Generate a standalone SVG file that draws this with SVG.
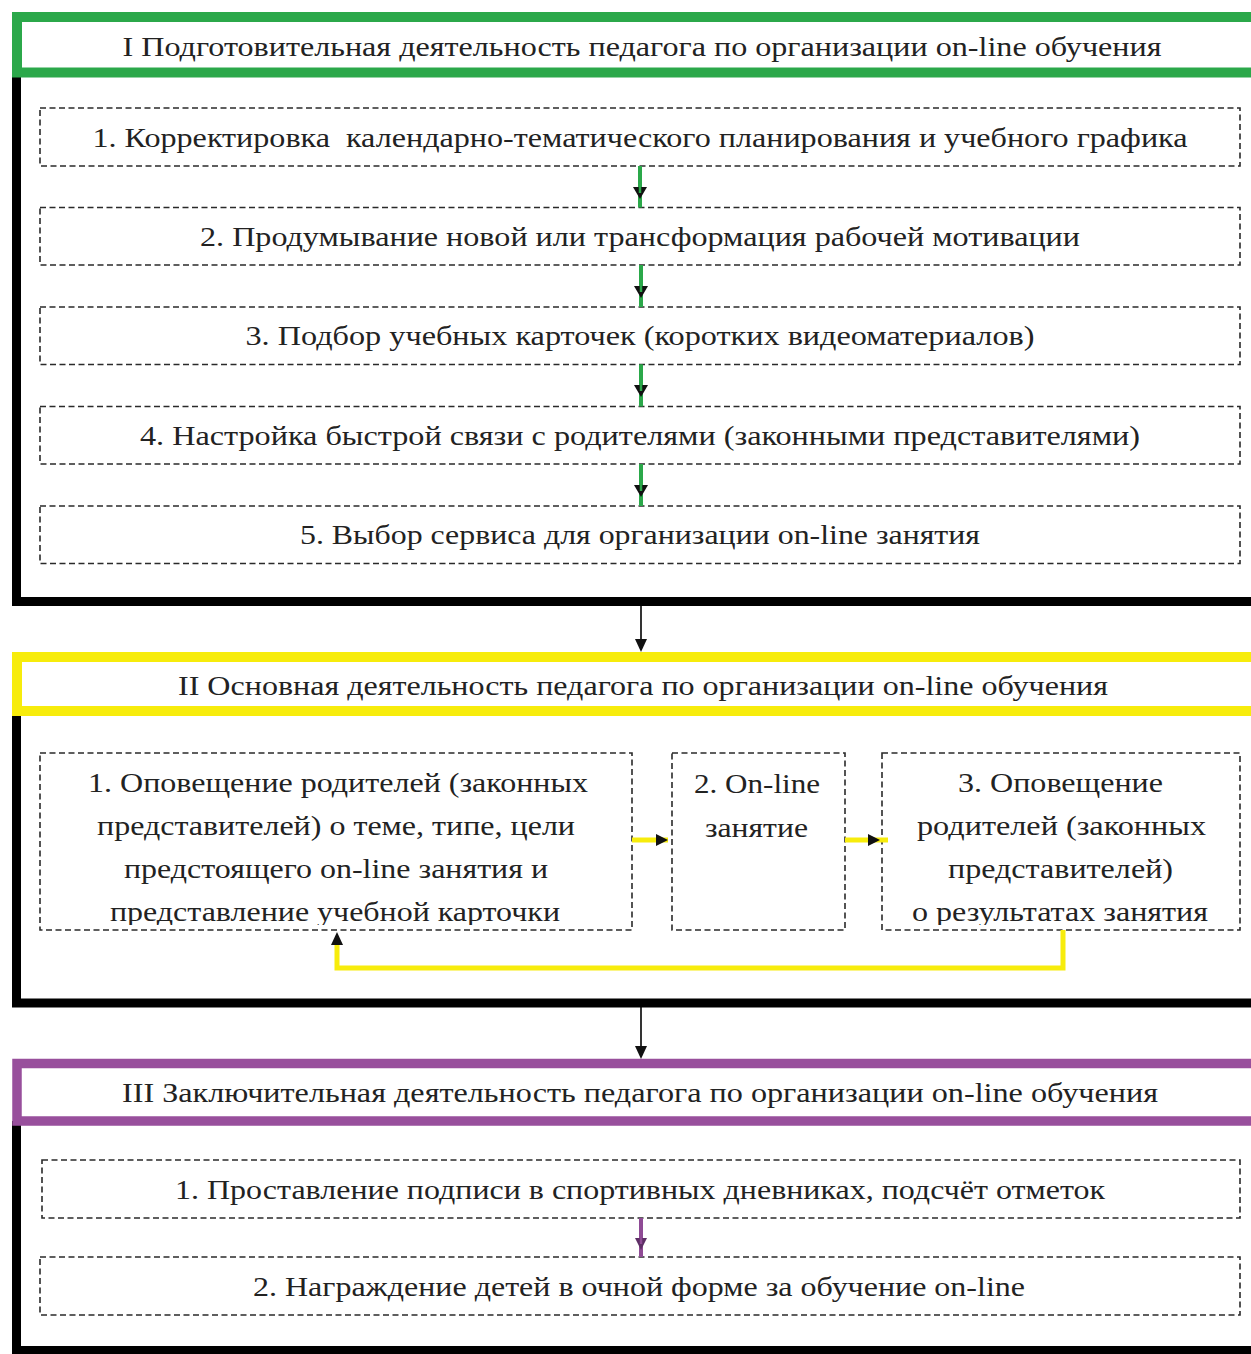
<svg xmlns="http://www.w3.org/2000/svg" width="1251" height="1354" viewBox="0 0 1251 1354">
<style>
  text { font-family: "Liberation Serif", "Times New Roman", serif; font-size: 28px; fill: #222222; text-anchor: middle; }
  .box { fill: #ffffff; stroke: #2a2a2a; stroke-width: 1.6; stroke-dasharray: 6 3.5; }
  .frame { fill: none; stroke: #000000; stroke-width: 9; }
  .hdr { fill: #ffffff; }
  .green { stroke: #2ba84a; }
  .yellow { stroke: #f7ec0c; }
  .purple { stroke: #984f9c; }
  .gline { stroke: #2ba84a; stroke-width: 4; fill: none; }
  .yline { stroke: #f7ec0c; stroke-width: 5; fill: none; }
  .pline { stroke: #8f4b95; stroke-width: 4; fill: none; }
  .bline { stroke: #000000; stroke-width: 1.6; fill: none; }
  .head { fill: #111111; }
</style>
<defs>
  <clipPath id="clipII">
    <rect x="0" y="740" width="1251" height="185"/>
  </clipPath>
</defs>
<rect x="0" y="0" width="1251" height="1354" fill="#ffffff"/>

<!-- Section I -->
<g id="frame-I">
  <path class="frame" d="M16.5,72 V601.5 H1270"/>
</g>
<g id="header-I">
  <rect class="hdr green" x="17" y="17" width="1300" height="55.5" stroke-width="10"/>
  <text x="642" y="56" textLength="1039" lengthAdjust="spacingAndGlyphs">I Подготовительная деятельность педагога по организации on-line обучения</text>
</g>
<g id="step-I-1">
  <rect class="box" x="40" y="108" width="1200" height="58"/>
  <text x="640" y="147" textLength="1095" lengthAdjust="spacingAndGlyphs" xml:space="preserve" style="white-space:pre">1. Корректировка  календарно-тематического планирования и учебного графика</text>
</g>
<g id="step-I-2">
  <rect class="box" x="40" y="207.5" width="1200" height="57.5"/>
  <text x="640" y="246" textLength="880" lengthAdjust="spacingAndGlyphs">2. Продумывание новой или трансформация рабочей мотивации</text>
</g>
<g id="step-I-3">
  <rect class="box" x="40" y="307" width="1200" height="57.5"/>
  <text x="640" y="345" textLength="789" lengthAdjust="spacingAndGlyphs">3. Подбор учебных карточек (коротких видеоматериалов)</text>
</g>
<g id="step-I-4">
  <rect class="box" x="40" y="406.5" width="1200" height="57.5"/>
  <text x="640" y="445" textLength="1000" lengthAdjust="spacingAndGlyphs">4. Настройка быстрой связи с родителями (законными представителями)</text>
</g>
<g id="step-I-5">
  <rect class="box" x="40" y="506" width="1200" height="57.5"/>
  <text x="640" y="544" textLength="680" lengthAdjust="spacingAndGlyphs">5. Выбор сервиса для организации on-line занятия</text>
</g>

<!-- Section II -->
<g id="frame-II">
  <path class="frame" d="M16.5,711 V1003 H1270"/>
</g>
<g id="header-II">
  <rect class="hdr yellow" x="17" y="657" width="1300" height="54" stroke-width="10"/>
  <text x="643" y="695" textLength="930" lengthAdjust="spacingAndGlyphs">II Основная деятельность педагога по организации on-line обучения</text>
</g>
<g id="step-II-1">
  <rect class="box" x="40" y="753" width="592" height="177"/>
  <g clip-path="url(#clipII)">
    <text x="338" y="792" textLength="500" lengthAdjust="spacingAndGlyphs">1. Оповещение родителей (законных</text>
    <text x="336" y="835" textLength="478" lengthAdjust="spacingAndGlyphs">представителей) о теме, типе, цели</text>
    <text x="336" y="878" textLength="424" lengthAdjust="spacingAndGlyphs">предстоящего on-line занятия и</text>
    <text x="335" y="921" textLength="450" lengthAdjust="spacingAndGlyphs">представление учебной карточки</text>
  </g>
</g>
<g id="step-II-2">
  <rect class="box" x="672" y="753" width="173" height="177"/>
  <text x="757" y="793" textLength="126" lengthAdjust="spacingAndGlyphs">2. On-line</text>
  <text x="756.5" y="837" textLength="103" lengthAdjust="spacingAndGlyphs">занятие</text>
</g>
<g id="step-II-3">
  <rect class="box" x="882" y="753" width="358" height="177"/>
  <g clip-path="url(#clipII)">
    <text x="1060.5" y="792" textLength="205" lengthAdjust="spacingAndGlyphs">3. Оповещение</text>
    <text x="1061.5" y="835" textLength="289" lengthAdjust="spacingAndGlyphs">родителей (законных</text>
    <text x="1060.5" y="878" textLength="225" lengthAdjust="spacingAndGlyphs">представителей)</text>
    <text x="1060" y="921" textLength="296" lengthAdjust="spacingAndGlyphs">о результатах занятия</text>
  </g>
</g>

<!-- Section III -->
<g id="frame-III">
  <path class="frame" d="M16.5,1121 V1350.5 H1270"/>
</g>
<g id="header-III">
  <rect class="hdr purple" x="17" y="1063.5" width="1300" height="57.5" stroke-width="9.5"/>
  <text x="640" y="1102" textLength="1036" lengthAdjust="spacingAndGlyphs">III Заключительная деятельность педагога по организации on-line обучения</text>
</g>
<g id="step-III-1">
  <rect class="box" x="42" y="1160" width="1198" height="58"/>
  <text x="640" y="1199" textLength="930" lengthAdjust="spacingAndGlyphs">1. Проставление подписи в спортивных дневниках, подсчёт отметок</text>
</g>
<g id="step-III-2">
  <rect class="box" x="40" y="1257" width="1200" height="58"/>
  <text x="639" y="1296" textLength="772" lengthAdjust="spacingAndGlyphs">2. Награждение детей в очной форме за обучение on-line</text>
</g>

<!-- Connectors -->
<g id="connectors">
  <!-- green arrows section I -->
  <line class="gline" x1="640" y1="166" x2="640" y2="207.5"/>
  <polygon class="head" points="633,187 647,187 640,199"/>
  <line x1="640" y1="166" x2="640" y2="193" stroke="#2ba84a" stroke-width="2.5"/>
  <line class="gline" x1="641" y1="265" x2="641" y2="307"/>
  <polygon class="head" points="634,286 648,286 641,298"/>
  <line x1="641" y1="265" x2="641" y2="292" stroke="#2ba84a" stroke-width="2.5"/>
  <line class="gline" x1="641" y1="364.5" x2="641" y2="406.5"/>
  <polygon class="head" points="634,385 648,385 641,397"/>
  <line x1="641" y1="364.5" x2="641" y2="391" stroke="#2ba84a" stroke-width="2.5"/>
  <line class="gline" x1="641" y1="464" x2="641" y2="506"/>
  <polygon class="head" points="634,485 648,485 641,497"/>
  <line x1="641" y1="464" x2="641" y2="491" stroke="#2ba84a" stroke-width="2.5"/>

  <!-- black arrows between sections -->
  <line class="bline" x1="641" y1="606" x2="641" y2="641"/>
  <polygon class="head" points="635,639 647,639 641,652"/>
  <line class="bline" x1="641" y1="1007" x2="641" y2="1047"/>
  <polygon class="head" points="635,1046 647,1046 641,1059"/>

  <!-- yellow arrows section II -->
  <line class="yline" x1="632" y1="840" x2="668" y2="840"/>
  <polygon class="head" points="656,834 656,846 668,840"/>
  <line class="yline" x1="845" y1="840" x2="888" y2="840"/>
  <polygon class="head" points="868,834 868,846 880,840"/>
  <path class="yline" d="M1063,930 V968 H337 V940"/>
  <polygon class="head" points="331,945 343,945 337,932"/>

  <!-- purple arrow section III -->
  <line class="pline" x1="641" y1="1218" x2="641" y2="1257"/>
  <polygon points="635,1238 647,1238 641,1250" fill="#5e2f66"/>
  <line x1="641" y1="1218" x2="641" y2="1244" stroke="#8f4b95" stroke-width="2.5"/>
</g>
</svg>
